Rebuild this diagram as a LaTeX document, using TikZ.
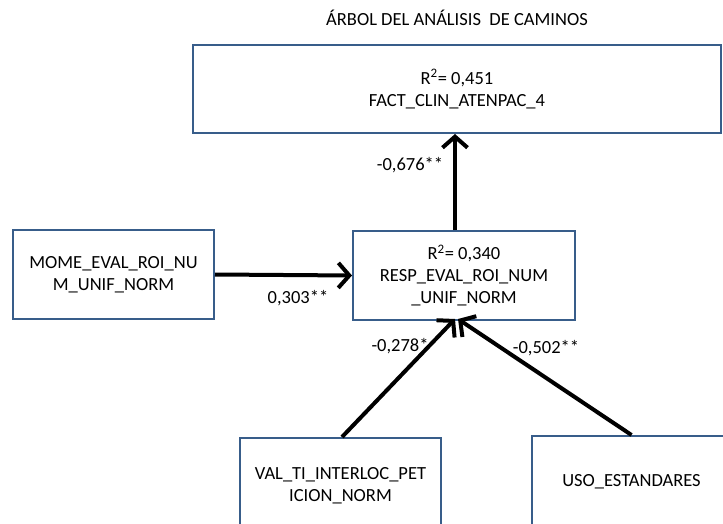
\documentclass[tikz,border=0pt]{standalone}
\usepackage{fontspec}
\setmainfont{Carlito}
\usetikzlibrary{arrows.meta}
\definecolor{boxblue}{RGB}{56,93,138}
\begin{document}
\begin{tikzpicture}[x=1pt,y=-1pt,
  box/.style={draw=boxblue,line width=2pt,fill=white,rectangle,align=center,inner sep=0pt,font=\fontsize{18.5}{22}\selectfont},
  lbl/.style={font=\fontsize{18.5}{22}\selectfont,inner sep=0pt},
  conn/.style={line width=4pt,-{Straight Barb[length=11pt,width=25pt]}}]
\useasboundingbox (0,0) rectangle (723,524);
\node[lbl] (title) at (457,18) {ÁRBOL DEL ANÁLISIS\ \ DE CAMINOS};
\node[box,minimum width=528pt,minimum height=88pt] (top) at (457,89) {R\textsuperscript{2}= 0,451\\FACT\_CLIN\_ATENPAC\_4};
\node[box,minimum width=201pt,minimum height=89pt] (mome) at (113.5,274.5) {MOME\_EVAL\_ROI\_NU\\M\_UNIF\_NORM};
\node[box,minimum width=222pt,minimum height=89pt] (resp) at (464,275.5) {R\textsuperscript{2}= 0,340\\RESP\_EVAL\_ROI\_NUM\\\_UNIF\_NORM};
\node[box,minimum width=201pt,minimum height=96pt] (val) at (340.5,486) {VAL\_TI\_INTERLOC\_PET\\ICION\_NORM};
\node[box,minimum width=199pt,minimum height=92pt] (uso) at (631.5,482) {USO\_ESTANDARES};
\coordinate (rt) at ([xshift=-9pt]resp.north);
\coordinate (rb1) at ([xshift=-9pt,yshift=2pt]resp.south);
\coordinate (rb2) at ([xshift=-6pt,yshift=2pt]resp.south);
\draw[conn] (rt) -- (rt |- top.south);
\draw[conn] (mome.east) -- (resp.west);
\draw[conn] ([xshift=1.5pt]val.north) -- (rb1);
\draw[conn] (uso.north) -- (rb2);
\node[lbl] (l1) at (410,165) {-0,676**};
\node[lbl] (l2) at (298,298) {0,303**};
\node[lbl] (l3) at (400,346) {-0,278*};
\node[lbl] (l4) at (546,348) {-0,502**};
\end{tikzpicture}
\end{document}
